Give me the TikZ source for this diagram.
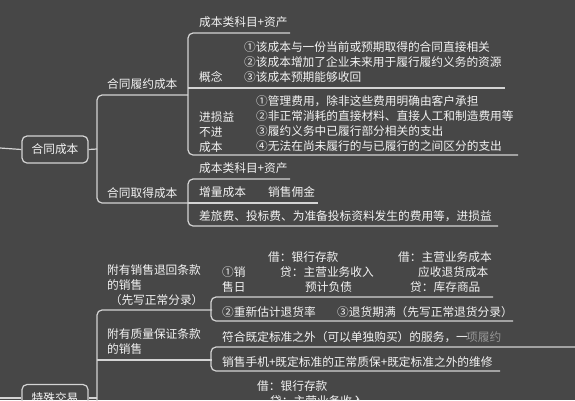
\documentclass[tikz,border=0pt]{standalone}
\usepackage{fontspec}
\setmainfont{Noto Sans CJK SC}
\usepackage{xcolor}
\usepackage{tikz}

\definecolor{bgc}{RGB}{71,71,71}
\definecolor{lnc}{RGB}{212,212,212}
\definecolor{txc}{RGB}{243,243,243}

\begin{document}
\begin{tikzpicture}[x=1pt, y=-1pt,
  txt/.style={anchor=west, inner sep=0pt, text=txc, align=left,
              font=\fontsize{11.7}{15}\selectfont},
  wire/.style={draw=lnc, line width=1.2pt, rounded corners=5pt},
  topic/.style={draw=lnc, line width=1.2pt, rounded corners=5pt, text=txc,
                minimum width=66pt, minimum height=27pt,
                font=\fontsize{11.7}{15}\selectfont}]
  \fill[bgc] (0,0) rectangle (575,400);
  \useasboundingbox (0,0) rectangle (575,400);

  % main topics
  \node[topic] (htcb) at (55,149.5) {合同成本};
  \node[topic] (tsjy) at (55,398) {特殊交易};
  \coordinate (in1) at (0,148);  \coordinate (in2) at (0,398);
  \coordinate (k1) at (97,149);  \coordinate (k2) at (97,398);
  \draw[wire] (in1) -- (htcb.west);  \draw[wire] (htcb.east) -- (k1);
  \draw[wire] (in2) -- (tsjy.west);  \draw[wire] (tsjy.east) -- (k2);

  % 合同成本
  \node[txt] (lycb) at (107,84)  {合同履约成本};
  \node[txt] (qdcb) at (107,193) {合同取得成本};
  \coordinate (a1) at (188,95);  \coordinate (a2) at (188,203);
  \draw[wire] (a1) -- (97,95) -- (97,203) -- (a2);

  % 合同履约成本
  \node[txt] (zc1) at (199,22) {成本类科目+资产};
  \node[txt] (gn)  at (199,77) {概念};
  \node[txt] (gn1) at (244,62) {①该成本与一份当前或预期取得的合同直接相关\\
                                 ②该成本增加了企业未来用于履行履约义务的资源\\
                                 ③该成本预期能够收回};
  \node[txt] (jsy) at (199,132) {进损益\\不进\\成本};
  \node[txt] (jsy1) at (256,123.5) {①管理费用，除非这些费用明确由客户承担\\
                                    ②非正常消耗的直接材料、直接人工和制造费用等\\
                                    ③履约义务中已履行部分相关的支出\\
                                    ④无法在尚未履行的与已履行的之间区分的支出};
  \coordinate (b1) at (290,33);  \coordinate (b2) at (518,155);
  \draw[wire] (b1) -- (188,33) -- (188,155) -- (b2);
  \coordinate (b3) at (188,88);  \coordinate (b4) at (505,88);
  \draw[wire] (b3) -- (b4);

  % 合同取得成本
  \node[txt] (zc2) at (199,168) {成本类科目+资产};
  \node[txt] (zl)  at (199,192) {增量成本};
  \node[txt] (xy)  at (268,192) {销售佣金};
  \node[txt] (clf) at (199,216) {差旅费、投标费、为准备投标资料发生的费用等，进损益};
  \coordinate (c1) at (290,179); \coordinate (c2) at (498,226);
  \draw[wire] (c1) -- (188,179) -- (188,226) -- (c2);
  \coordinate (c3) at (318,203);
  \draw[wire] (a2) -- (c3);

  % 特殊交易
  \node[txt] (thtk) at (107,285) {附有销售退回条款\\的销售\\\ （先写正常分录）};
  \node[txt] (zlbz) at (107,342) {附有质量保证条款\\的销售};
  \coordinate (d1) at (212,310); \coordinate (d2) at (212,360);
  \draw[wire] (d1) -- (97,310) -- (97,410);
  \draw[wire] (97,360) -- (d2);

  % 附有销售退回条款的销售
  \node[txt] (xsr) at (222,280) {①销\\售日};
  \node[txt] (j1) at (268,257) {借：银行存款};
  \node[txt] (d1t) at (280,272) {贷：主营业务收入};
  \node[txt] (yj) at (305,287) {预计负债};
  \node[txt] (j2) at (398,257) {借：主营业务成本};
  \node[txt] (ys) at (418,272) {应收退货成本};
  \node[txt] (d2t) at (410,287) {贷：库存商品};
  \node[txt] (cgj) at (222,312) {②重新估计退货率};
  \node[txt] (thq) at (337,312) {③退货期满（先写正常退货分录）};
  \coordinate (e1) at (493,297); \coordinate (e2) at (513,321);
  \draw[wire] (e1) -- (211,297) -- (211,321) -- (e2);

  % 附有质量保证条款的销售
  \node[txt] (fw) at (222,337) {符合既定标准之外（可以单独购买）的服务，一};
  \node[txt, text=lnc!55!bgc] (blr) at (466,337) {项履约};
  \node[txt] (sj) at (222,362) {销售手机+既定标准的正常质保+既定标准之外的维修};
  \coordinate (f1) at (575,347); \coordinate (f2) at (500,371);
  \draw[wire] (f1) -- (211,347) -- (211,371) -- (f2);

  % third branch (cut off)
  \node[txt] (j3) at (257,386) {借：银行存款};
  \node[txt] (d3t) at (270,401) {贷：主营业务收入};
\end{tikzpicture}
\end{document}
